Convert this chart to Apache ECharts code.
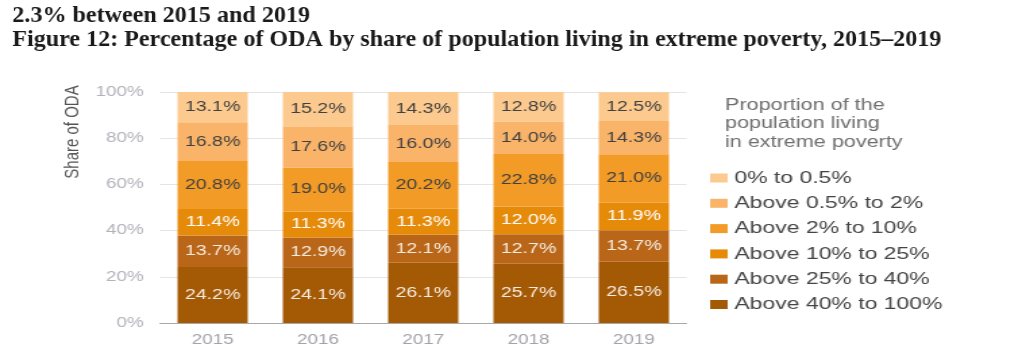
<!DOCTYPE html>
<html>
<head>
<meta charset="utf-8">
<title>Figure 12: Percentage of ODA by share of population living in extreme poverty, 2015–2019</title>
<script src="https://cdn.jsdelivr.net/npm/echarts@6/dist/echarts.min.js"></script>
<style>
  html, body { margin: 0; padding: 0; background: #ffffff; overflow: hidden; }
  #page { position: relative; width: 1010px; height: 363px; overflow: hidden; }
  /* The figure artwork is laid out in a narrower box and widened horizontally */
  #heading { position: absolute; left: 0; top: 0; width: 944px; height: 60px;
             transform: scaleX(1.07); transform-origin: 0 0; }
  #chart { position: absolute; left: 0; top: 0; width: 748px; height: 363px;
           transform: scaleX(1.35); transform-origin: 0 0; }
</style>
</head>
<body>
<div id="page">
  <div id="chart"></div>
  <div id="heading"></div>
</div>
<script>
// Years on the category axis
const years = ['2015', '2016', '2017', '2018', '2019'];

// Legend entries, listed from lowest to highest poverty band
const bandNames = [
  '0% to 0.5%',
  'Above 0.5% to 2%',
  'Above 2% to 10%',
  'Above 10% to 25%',
  'Above 25% to 40%',
  'Above 40% to 100%'
];

// Share of ODA (%) going to countries in each band, per year
const share0to05   = [13.1, 15.2, 14.3, 12.8, 12.5];
const share05to2   = [16.8, 17.6, 16.0, 14.0, 14.3];
const share2to10   = [20.8, 19.0, 20.2, 22.8, 21.0];
const share10to25  = [11.4, 11.3, 11.3, 12.0, 11.9];
const share25to40  = [13.7, 12.9, 12.1, 12.7, 13.7];
const share40to100 = [24.2, 24.1, 26.1, 25.7, 26.5];

// Value axis ticks
const yMin = 0, yMax = 100, yStep = 20;

const headingLines = [
  '2.3% between 2015 and 2019',
  'Figure 12: Percentage of ODA by share of population living in extreme poverty, 2015–2019'
];
const legendTitle = 'Proportion of the\npopulation living\nin extreme poverty';
const axisTitle = 'Share of ODA';

const sans = '"Liberation Sans", Arial, Helvetica, sans-serif';

// Band colours, light to dark, and label colour on each
const bandColors = ['#fcca8e', '#f9b46a', '#f39b27', '#e68a0a', '#b96618', '#a45905'];
const labelColors = ['#404040', '#404040', '#404040', '#ffffff', '#f6ece2', '#f6ece2'];

// Bottom of the stack first: darkest band sits on the axis
const stackOrder = [
  { name: bandNames[5], data: share40to100, idx: 5 },
  { name: bandNames[4], data: share25to40,  idx: 4 },
  { name: bandNames[3], data: share10to25,  idx: 3 },
  { name: bandNames[2], data: share2to10,   idx: 2 },
  { name: bandNames[1], data: share05to2,   idx: 1 },
  { name: bandNames[0], data: share0to05,   idx: 0 }
];

const chart = echarts.init(document.getElementById('chart'), null, { renderer: 'canvas' });

chart.setOption({
  animation: false,
  backgroundColor: 'transparent',
  textStyle: { fontFamily: sans },
  grid: { left: 118.5, right: 239.5, top: 92, bottom: 40, containLabel: false },
  xAxis: {
    type: 'category',
    data: years,
    axisTick: { show: false },
    axisLine: { show: true, lineStyle: { color: '#a8a8a8', width: 1 } },
    axisLabel: { color: '#a2a2aa', fontSize: 14, margin: 10, fontFamily: sans }
  },
  yAxis: {
    type: 'value',
    min: yMin,
    max: yMax,
    interval: yStep,
    axisLine: { show: false },
    axisTick: { show: false },
    axisLabel: {
      color: '#b2b2ba', fontSize: 14, margin: 12, fontFamily: sans,
      formatter: v => v + '%'
    },
    splitLine: { show: true, lineStyle: { color: '#e4e4e4', width: 1 } }
  },
  legend: {
    orient: 'vertical',
    left: 526,
    top: 169.5,
    padding: 0,
    itemWidth: 13,
    itemHeight: 9,
    itemGap: 8.3,
    icon: 'rect',
    selectedMode: false,
    data: bandNames,
    textStyle: { color: '#444444', fontSize: 17, lineHeight: 17, fontFamily: sans }
  },
  graphic: [
    {
      type: 'text',
      x: 537,
      y: 96,
      silent: true,
      style: {
        text: legendTitle,
        fill: '#6e6e6e',
        font: '16px ' + sans,
        lineHeight: 18.5,
        textAlign: 'left',
        textVerticalAlign: 'top'
      }
    },
    {
      type: 'text',
      x: 53.5,
      y: 132,
      rotation: Math.PI / 2,
      silent: true,
      style: {
        text: axisTitle,
        fill: '#555555',
        font: '15px ' + sans,
        textAlign: 'center',
        textVerticalAlign: 'middle'
      }
    }
  ],
  series: stackOrder.map(s => ({
    name: s.name,
    type: 'bar',
    stack: 'oda',
    barWidth: 52,
    data: s.data,
    itemStyle: { color: bandColors[s.idx] },
    label: {
      show: true,
      position: 'inside',
      color: labelColors[s.idx],
      fontSize: 14.5,
      fontFamily: sans,
      formatter: p => p.value.toFixed(1) + '%'
    }
  }))
});

// Document heading above the figure
const heading = echarts.init(document.getElementById('heading'), null, { renderer: 'canvas' });
heading.setOption({
  animation: false,
  backgroundColor: 'transparent',
  title: {
    text: headingLines.join('\n'),
    left: 11.5,
    top: 4.5,
    padding: 0,
    textStyle: {
      fontFamily: '"Liberation Serif", "Times New Roman", Times, serif',
      fontWeight: 'bold',
      fontSize: 22.5,
      lineHeight: 23.5,
      color: '#1a1a1a'
    }
  }
});
</script>
</body>
</html>
